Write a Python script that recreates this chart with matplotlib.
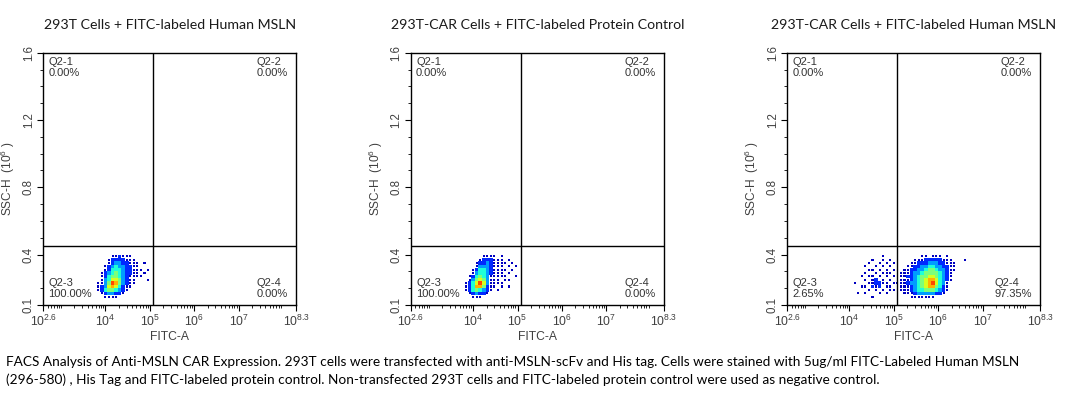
import matplotlib
matplotlib.use("Agg")
import matplotlib.pyplot as plt
import numpy as np
from matplotlib.ticker import FixedLocator

plt.rcParams["font.family"] = ["Liberation Sans", "DejaVu Sans"]
plt.rcParams["mathtext.default"] = "regular"

# ---- chart data -------------------------------------------------------
titles = [
    "293T Cells + FITC-labeled Human MSLN",
    "293T-CAR Cells + FITC-labeled Protein Control",
    "293T-CAR Cells + FITC-labeled Human MSLN",
]
quad_names = ["Q2-1", "Q2-2", "Q2-3", "Q2-4"]
quad_pcts = [
    ["0.00%", "0.00%", "100.00%", "0.00%"],
    ["0.00%", "0.00%", "100.00%", "0.00%"],
    ["0.00%", "0.00%", "2.65%", "97.35%"],
]
x_gate = 10 ** 5.07      # FITC-A gate
y_gate = 0.45            # SSC-H gate (10^6)

x_ticks_log = [2.6, 4, 5, 6, 7, 8.3]
x_tick_labels = ["$10^{2.6}$", "$10^{4}$", "$10^{5}$", "$10^{6}$", "$10^{7}$", "$10^{8.3}$"]
y_ticks = [0.1, 0.4, 0.8, 1.2, 1.6]
y_tick_labels = ["0.1", "0.4", "0.8", "1.2", "1.6"]

# density grids (0 = empty, 8 = densest)
# rows run from top (SSC-H 0.38-0.40) down to bottom (0.14-0.16)
y_bin_start, y_bin_step = 0.14, 0.02
x_bin_step = 0.08        # in log10(FITC-A)
x_bin_starts = [3.80, 3.80, 4.08]

density_293t_msln = [
    [0, 0, 0, 0, 1, 1, 2, 1, 1, 1, 0, 0, 0, 0, 0],
    [0, 0, 0, 1, 2, 2, 2, 2, 1, 1, 1, 0, 0, 0, 0],
    [0, 0, 0, 1, 2, 3, 3, 2, 2, 1, 1, 1, 0, 1, 0],
    [0, 0, 1, 2, 3, 4, 3, 3, 2, 2, 1, 1, 0, 0, 0],
    [0, 0, 1, 2, 4, 4, 4, 3, 2, 2, 1, 1, 1, 0, 1],
    [0, 1, 2, 3, 4, 5, 4, 3, 2, 2, 1, 1, 0, 1, 0],
    [0, 1, 2, 4, 5, 5, 4, 3, 2, 1, 1, 1, 1, 0, 0],
    [0, 1, 3, 4, 6, 6, 5, 3, 2, 1, 1, 0, 0, 0, 1],
    [1, 1, 3, 5, 8, 7, 5, 3, 2, 1, 1, 0, 0, 0, 0],
    [1, 2, 3, 6, 7, 6, 4, 2, 1, 1, 0, 0, 0, 0, 0],
    [1, 2, 4, 5, 5, 4, 3, 2, 1, 0, 0, 0, 0, 0, 0],
    [0, 1, 2, 3, 3, 2, 2, 1, 0, 0, 0, 0, 0, 0, 0],
    [0, 0, 1, 1, 1, 1, 0, 0, 0, 0, 0, 0, 0, 0, 0],
]
density_car_control = [
    [0, 0, 0, 0, 0, 1, 1, 1, 1, 0, 1, 0, 0, 0, 0],
    [0, 0, 0, 0, 1, 2, 2, 2, 1, 1, 1, 0, 1, 0, 0],
    [0, 0, 0, 1, 2, 2, 3, 2, 1, 1, 1, 1, 0, 1, 0],
    [0, 0, 0, 1, 3, 3, 3, 2, 1, 1, 1, 0, 1, 0, 1],
    [0, 0, 1, 2, 4, 4, 3, 2, 1, 1, 1, 1, 0, 1, 0],
    [0, 0, 1, 3, 4, 4, 3, 2, 1, 1, 1, 0, 1, 0, 0],
    [0, 1, 2, 4, 5, 4, 3, 1, 1, 1, 1, 1, 0, 0, 1],
    [0, 1, 3, 5, 6, 5, 3, 1, 1, 1, 0, 1, 1, 0, 0],
    [1, 2, 4, 6, 8, 6, 3, 1, 1, 1, 1, 0, 0, 0, 0],
    [1, 2, 4, 7, 7, 5, 2, 1, 1, 0, 1, 0, 1, 0, 0],
    [1, 2, 4, 5, 4, 3, 2, 1, 0, 1, 0, 0, 0, 0, 0],
    [0, 1, 2, 3, 2, 2, 1, 0, 0, 0, 0, 0, 0, 0, 0],
    [0, 0, 1, 1, 1, 0, 0, 0, 0, 0, 0, 0, 0, 0, 0],
]
density_car_msln = [
    [0, 0, 0, 0, 0, 0, 0, 0, 1, 0, 0, 0, 0, 0, 0, 0, 0, 0, 0, 1, 1, 0, 1, 1, 1, 0, 1, 0, 0, 0, 0, 0, 0],
    [0, 0, 0, 0, 0, 1, 0, 0, 1, 0, 1, 0, 0, 0, 0, 0, 0, 1, 1, 1, 2, 2, 2, 2, 2, 1, 1, 1, 0, 0, 0, 1, 0],
    [0, 0, 0, 0, 1, 0, 0, 1, 0, 1, 0, 1, 0, 0, 0, 0, 1, 1, 2, 2, 2, 3, 3, 3, 2, 2, 1, 1, 1, 0, 0, 0, 0],
    [0, 0, 0, 1, 0, 0, 1, 0, 1, 0, 1, 0, 0, 0, 0, 1, 1, 2, 2, 3, 3, 4, 4, 3, 3, 2, 2, 1, 1, 0, 0, 0, 0],
    [0, 0, 0, 0, 1, 1, 0, 1, 0, 1, 0, 1, 0, 0, 1, 1, 2, 2, 3, 3, 4, 5, 5, 4, 3, 3, 2, 1, 1, 0, 0, 0, 0],
    [0, 0, 0, 1, 0, 0, 1, 0, 1, 1, 1, 0, 0, 1, 1, 1, 2, 3, 3, 4, 5, 5, 5, 5, 4, 3, 2, 1, 0, 0, 0, 0, 0],
    [0, 0, 1, 0, 1, 1, 0, 1, 0, 1, 0, 1, 0, 1, 1, 2, 2, 3, 4, 5, 5, 6, 6, 5, 4, 3, 2, 1, 0, 0, 0, 0, 0],
    [0, 0, 0, 1, 0, 1, 2, 0, 1, 0, 1, 0, 0, 1, 1, 1, 2, 3, 4, 5, 6, 7, 7, 6, 4, 3, 2, 1, 0, 0, 0, 0, 0],
    [1, 0, 0, 0, 1, 1, 2, 2, 1, 1, 0, 1, 1, 1, 1, 2, 3, 3, 4, 5, 6, 7, 8, 6, 4, 3, 1, 0, 0, 0, 0, 0, 0],
    [0, 0, 1, 1, 0, 2, 1, 2, 0, 1, 1, 0, 0, 1, 1, 1, 2, 3, 4, 5, 6, 7, 7, 5, 4, 2, 1, 0, 0, 0, 0, 0, 0],
    [0, 0, 0, 0, 1, 0, 1, 0, 1, 0, 1, 1, 0, 1, 1, 1, 2, 3, 4, 4, 5, 5, 5, 4, 3, 2, 1, 0, 0, 0, 0, 0, 0],
    [0, 1, 0, 1, 0, 0, 0, 1, 0, 1, 0, 0, 0, 0, 1, 1, 1, 2, 3, 3, 3, 3, 3, 2, 2, 1, 0, 0, 0, 0, 0, 0, 0],
    [0, 0, 0, 0, 0, 1, 0, 0, 0, 0, 0, 0, 0, 0, 0, 0, 1, 1, 1, 1, 1, 1, 1, 0, 0, 0, 0, 0, 0, 0, 0, 0, 0],
]
densities = [density_293t_msln, density_car_control, density_car_msln]

caption_lines = [
    "FACS Analysis of Anti-MSLN CAR Expression. 293T cells were transfected with anti-MSLN-scFv and His tag. "
    "Cells were stained with 5ug/ml FITC-Labeled Human MSLN",
    "(296-580) , His Tag and FITC-labeled protein control. Non-transfected 293T cells and FITC-labeled "
    "protein control were used as negative control.",
]

# ---- figure -----------------------------------------------------------
W, H = 1073, 397
fig = plt.figure(figsize=(W / 100, H / 100), dpi=100)

ax_lefts = [43.3, 411.0, 787.3]   # pixels
ax_w, ax_top, ax_bot = 253.0, 52.7, 305.0

cmap = plt.get_cmap("jet")
vmin, vmax = 0.5, 9.5
tick_color = "#404040"

# minor x ticks (log decades) inside the axis range
minor_x = [k * 10.0 ** d for d in range(2, 9) for k in range(2, 10)] + [1e3]
minor_x = [v for v in minor_x if 10 ** 2.6 < v < 10 ** 8.3]
minor_y = [0.2, 0.3, 0.5, 0.6, 0.7, 0.9, 1.0, 1.1, 1.3, 1.4, 1.5]

for i in range(3):
    ax = fig.add_axes([ax_lefts[i] / W, 1 - ax_bot / H, ax_w / W, (ax_bot - ax_top) / H])

    grid = np.flipud(np.array(densities[i], dtype=float))
    nrows, ncols = grid.shape
    x_edges = 10 ** (x_bin_starts[i] + x_bin_step * np.arange(ncols + 1))
    y_edges = y_bin_start + y_bin_step * np.arange(nrows + 1)

    # dense cells as filled bins
    ax.pcolormesh(x_edges, y_edges, np.ma.masked_less(grid, 2),
                  cmap=cmap, vmin=vmin, vmax=vmax, shading="flat", zorder=1)
    # sparse cells as single small dots
    rr, cc = np.nonzero(grid == 1)
    xc = 10 ** (x_bin_starts[i] + x_bin_step * (cc + 0.5))
    yc = y_bin_start + y_bin_step * (rr + 0.5)
    ax.scatter(xc, yc, s=2.2, marker="s", c=grid[rr, cc], cmap=cmap, vmin=vmin, vmax=vmax,
               linewidths=0, zorder=1)

    ax.set_xscale("log")
    ax.set_xlim(10 ** 2.6, 10 ** 8.3)
    ax.set_ylim(0.1, 1.6)

    # quadrant gates
    ax.axvline(x_gate, color="black", lw=1.0, zorder=3)
    ax.axhline(y_gate, color="black", lw=1.0, zorder=3)

    ax.set_xticks([10 ** v for v in x_ticks_log])
    ax.set_xticklabels(x_tick_labels)
    ax.xaxis.set_minor_locator(FixedLocator(minor_x))
    ax.xaxis.set_minor_formatter(plt.NullFormatter())
    ax.set_yticks(y_ticks)
    ax.set_yticklabels(y_tick_labels, rotation=90, va="center")
    ax.yaxis.set_minor_locator(FixedLocator(minor_y))
    ax.tick_params(which="major", length=4, width=0.8, colors="black",
                   labelcolor=tick_color, pad=2)
    ax.tick_params(axis="x", which="major", labelsize=8.8)
    ax.tick_params(axis="y", which="major", labelsize=8.3)
    ax.tick_params(which="minor", length=2, width=0.6, colors="black")

    for sp in ax.spines.values():
        sp.set_linewidth(1.0)

    ax.set_xlabel("FITC-A", fontsize=8.7, color=tick_color, labelpad=2)
    ax.set_ylabel("SSC-H  (10$^6$ )", fontsize=8.6, color=tick_color, labelpad=4)
    ax.set_title(titles[i], fontsize=10.2, family=["Lato", "DejaVu Sans"], color="#1a1a1a", pad=17)

    pcts = quad_pcts[i]
    kw = dict(transform=ax.transAxes, fontsize=8, color="#333333", multialignment="left",
              linespacing=1.15)
    ax.text(0.02, 0.984, f"{quad_names[0]}\n{pcts[0]}", ha="left", va="top", **kw)
    ax.text(0.968, 0.984, f"{quad_names[1]}\n{pcts[1]}", ha="right", va="top", **kw)
    ax.text(0.02, 0.024, f"{quad_names[2]}\n{pcts[2]}", ha="left", va="bottom", **kw)
    ax.text(0.968, 0.024, f"{quad_names[3]}\n{pcts[3]}", ha="right", va="bottom", **kw)

for k, line in enumerate(caption_lines):
    fig.text(6 / W, 1 - (362 + 18 * k) / H, line, fontsize=9.8, family=["Lato", "DejaVu Sans"],
             color="black", ha="left", va="center")

fig.savefig("out.png", dpi=100)
